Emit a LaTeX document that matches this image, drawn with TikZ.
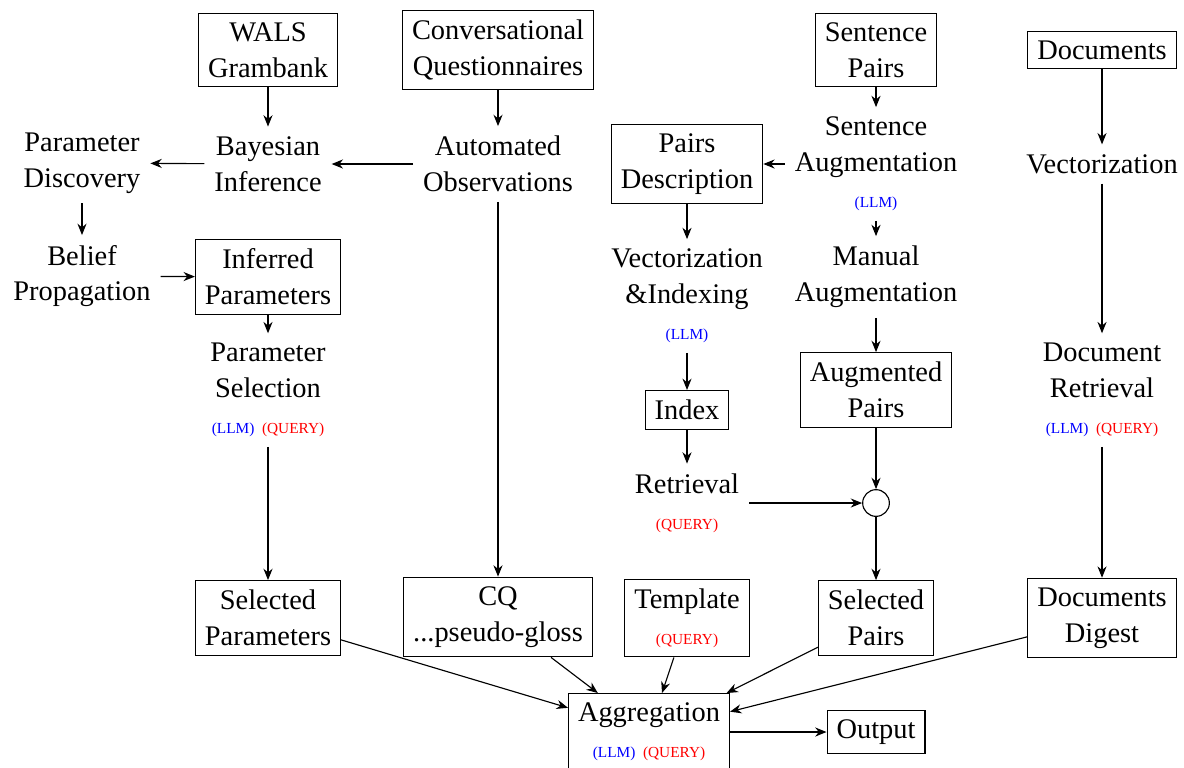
\documentclass[tikz,border=0pt]{standalone}
\usepackage{fontspec}
\setmainfont{Liberation Serif}
\usepackage{xcolor}
\usetikzlibrary{arrows.meta}

\newcommand{\llmtag}{{\fontsize{5.4pt}{6.5pt}\selectfont\color{blue}(LLM)}}
\newcommand{\querytag}{{\fontsize{5.4pt}{6.5pt}\selectfont\color{red}(QUERY)}}
\newcommand{\bothtags}{{\fontsize{5.4pt}{6.5pt}\selectfont\color{blue}(LLM)\enspace\color{red}(QUERY)}}

\begin{document}
\begin{tikzpicture}[
    x=0.3521pt, y=-0.3521pt,
    every node/.style={font=\fontsize{10pt}{12.6pt}\selectfont, align=center},
    block/.style={draw, rectangle},
    junction/.style={circle, draw, minimum size=9.4pt, inner sep=0pt},
    arrow/.style={-{Stealth[length=4pt, width=3.2pt]}}
]
\useasboundingbox (0,0) rectangle (1184,767);

% sources
\node[block] (wals) at (268,50) {WALS\\Grambank};
\node[block] (cqs) at (498,50) {Conversational\\Questionnaires};
\node[block] (sp) at (876,50) {Sentence\\Pairs};
\node[block] (docs) at (1102,50) {Documents};

% parameter branch
\node (pdisc) at (82,163) {Parameter\\Discovery};
\node (bayes) at (268,164) {Bayesian\\Inference};
\node (auto) at (498,164) {Automated\\Observations};
\node (belief) at (82,276) {Belief\\Propagation};
\node[block] (inferred) at (268,277) {Inferred\\Parameters};
\node (psel) at (268,390) {Parameter\\Selection\\\bothtags};

\draw[arrow] (wals) -- (bayes);
\draw[arrow] (cqs) -- (auto);
\draw[arrow] (auto) -- (bayes);
\draw[arrow] (bayes) -- (pdisc);
\draw[arrow] (pdisc) -- (belief);
\draw[arrow] (belief) -- (inferred);
\draw[arrow] (inferred) -- (psel);

% sentence pairs branch
\node (saug) at (876,164) {Sentence\\Augmentation\\\llmtag};
\node[block] (pdesc) at (687,164) {Pairs\\Description};
\node (vecidx) at (687,296) {Vectorization\\\&Indexing\\\llmtag};
\node (manual) at (876,277) {Manual\\Augmentation};
\node[block] (index) at (687,410) {Index};
\node[block] (augp) at (876,390) {Augmented\\Pairs};
\node (retr) at (687,503) {Retrieval\\\querytag};
\node[junction] (merge) at (876,503) {};

\draw[arrow] (sp) -- (saug);
\draw[arrow] (saug) -- (pdesc);
\draw[arrow] (saug) -- (manual);
\draw[arrow] (manual) -- (augp);
\draw[arrow] (pdesc) -- (vecidx);
\draw[arrow] (vecidx) -- (index);
\draw[arrow] (index) -- (retr);
\draw[arrow] (retr) -- (merge);
\draw[arrow] (augp) -- (merge);

% documents branch
\node (vec) at (1102,164) {Vectorization};
\node (docret) at (1102,390) {Document\\Retrieval\\\bothtags};

\draw[arrow] (docs) -- (vec);
\draw[arrow] (vec) -- (docret);

% aggregation
\node[block] (selparams) at (268,618) {Selected\\Parameters};
\node[block] (cq) at (498,617) {CQ\\...pseudo-gloss};
\node[block] (template) at (687,618) {Template\\\querytag};
\node[block] (selpairs) at (876,618) {Selected\\Pairs};
\node[block] (digest) at (1102,618) {Documents\\Digest};
\node[block] (agg) at (649,732) {Aggregation\\\bothtags};
\node[block] (out) at (876,732) {Output};

\draw[arrow] (psel) -- (selparams);
\draw[arrow] (auto) -- (cq);
\draw[arrow] (merge) -- (selpairs);
\draw[arrow] (docret) -- (digest);
\foreach \src in {selparams, cq, template, selpairs, digest}
    \draw[arrow] (\src) -- (agg);
\draw[arrow] (agg) -- (out);

\end{tikzpicture}
\end{document}
